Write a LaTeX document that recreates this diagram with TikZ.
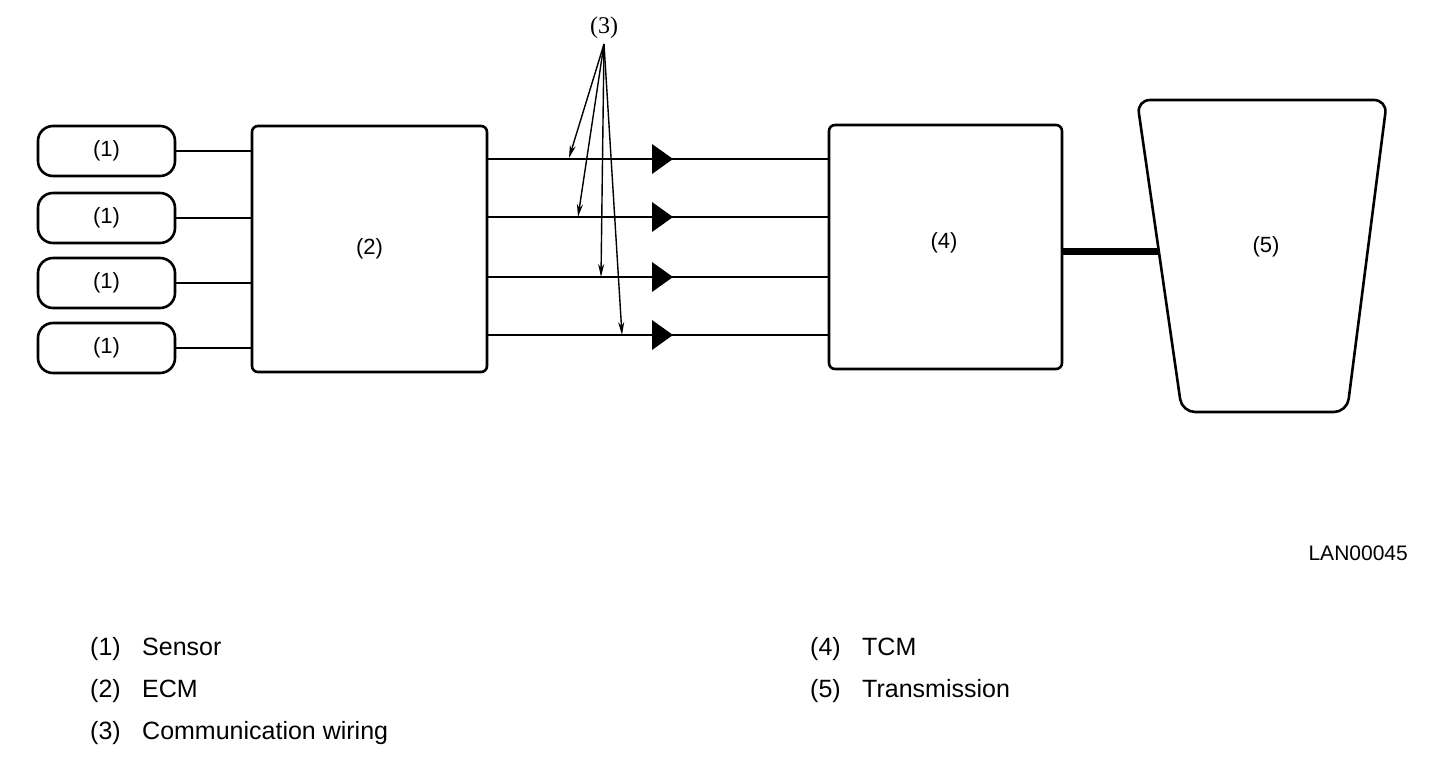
\documentclass[tikz,border=0pt]{standalone}
\usepackage{fontspec}
\setmainfont{Liberation Sans}
\newfontfamily\labserif{Liberation Serif}
\usetikzlibrary{arrows.meta}
\tikzset{
  sensor/.style={draw, line width=2.6pt, rounded corners=15pt, minimum width=137pt, minimum height=50pt, inner sep=0pt, font=\fontsize{22}{26}\selectfont},
  unit/.style={draw, line width=2.6pt, rounded corners=6pt, inner sep=0pt, font=\fontsize{22}{26}\selectfont},
  wire/.style={line width=2.8pt},
  lead/.style={line width=1.4pt, -{Stealth[length=13pt,width=6pt]}},
  tri/.style={fill=black},
  legend/.style={anchor=base west, inner sep=0pt, font=\fontsize{25}{29}\selectfont},
  plain/.style={inner sep=0pt, font=\fontsize{22}{26}\selectfont}
}
\begin{document}
\begin{tikzpicture}[x=1pt,y=-1pt]
\useasboundingbox (0,0) rectangle (1456,764);
% sensors
\node[sensor] (s1) at (106.5,151) {(1)};
\node[sensor] (s2) at (106.5,218) {(1)};
\node[sensor] (s3) at (106.5,283) {(1)};
\node[sensor] (s4) at (106.5,348) {(1)};
% ECM
\node[unit, minimum width=235pt, minimum height=246pt] (ecm) at (369.5,249) {(2)};
% TCM
\node[unit, minimum width=233pt, minimum height=244pt] (tcm) at (945.5,247) {};
\node[plain] (l4) at (944,243) {(4)};
% sensor lines
\foreach \i in {1,2,3,4} {\draw[wire] (s\i.east) -- (s\i.east -| ecm.west);}
% communication wiring
\foreach \y in {159,217,277,335} {
  \coordinate (a\y) at (ecm.east |- 0,\y);
  \coordinate (b\y) at (tcm.west |- 0,\y);
  \draw[wire] (a\y) -- (b\y);
  \fill[tri] (652,\y-15) -- (673,\y) -- (652,\y+15) -- cycle;
}
% label (3)
\node[plain, font=\labserif\fontsize{24}{28}\selectfont] (l3) at (604,28) {(3)};
\coordinate (c3) at (604,44);
\coordinate (t1) at (569,158);
\coordinate (t2) at (578,217);
\coordinate (t3) at (601,277);
\coordinate (t4) at (622,335);
\foreach \t in {t1,t2,t3,t4} {\draw[lead] (c3) -- (\t);}
% transmission
\draw[line width=2.6pt, rounded corners=13pt] (1137,100) -- (1387,100) -- (1347,412) -- (1182,412) -- cycle;
\node[plain] (l5) at (1266,247) {(5)};
\coordinate (tx) at (1159,251);
\draw[line width=7pt] (tcm.east |- tx) -- (tx);
% code
\node[plain, anchor=east, font=\fontsize{21}{24}\selectfont] (code) at (1408,553) {LAN00045};
% legend
\node[legend] (n1) at (90,655) {(1)};
\node[legend] (d1) at (142,655) {Sensor};
\node[legend] (n2) at (90,697) {(2)};
\node[legend] (d2) at (142,697) {ECM};
\node[legend] (n3) at (90,739) {(3)};
\node[legend] (d3) at (142,739) {Communication wiring};
\node[legend] (n4) at (810,655) {(4)};
\node[legend] (d4) at (862,655) {TCM};
\node[legend] (n5) at (810,697) {(5)};
\node[legend] (d5) at (862,697) {Transmission};
\end{tikzpicture}
\end{document}
